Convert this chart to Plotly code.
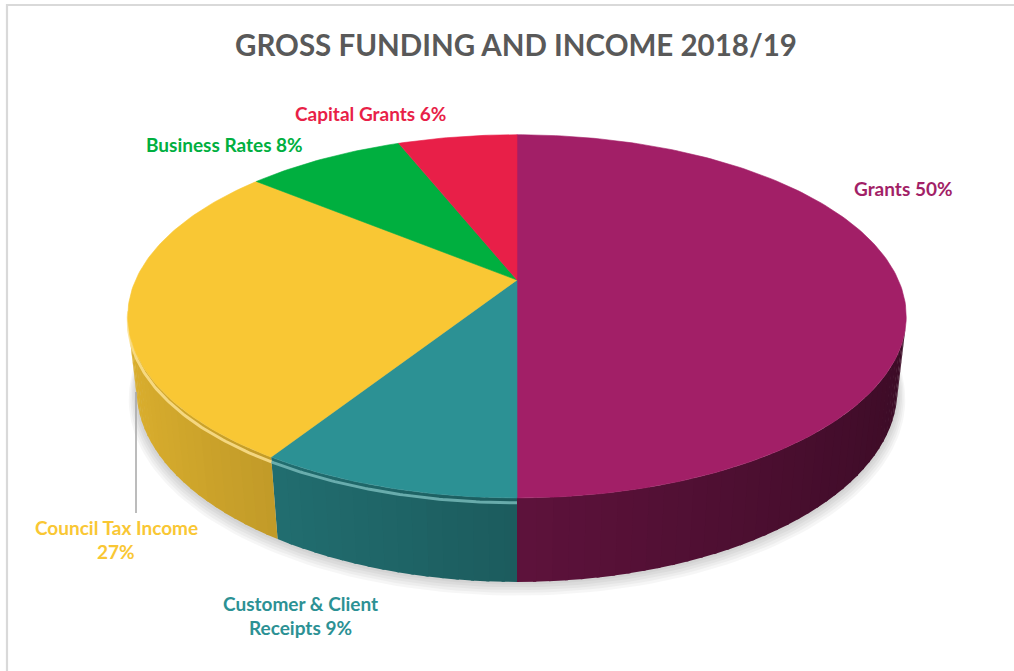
import numpy as np
import plotly.graph_objects as go

# ---- data -------------------------------------------------------------
categories = ["Grants", "Customer & Client Receipts", "Council Tax Income",
              "Business Rates", "Capital Grants"]
shares = [50, 9, 27, 8, 6]
label_lines = [["Grants 50%"],
               ["Customer & Client", "Receipts 9%"],
               ["Council Tax Income", "27%"],
               ["Business Rates 8%"],
               ["Capital Grants 6%"]]
title_text = "GROSS FUNDING AND INCOME 2018/19"

# ---- styling ----------------------------------------------------------
top_colors = ["#A21F67", "#2C9194", "#F9C734", "#00AF3F", "#E81F48"]
label_colors = ["#A21F67", "#2C9194", "#F9C734", "#00AF3F", "#E81F48"]
rim_light = [0.0, 0.35, 0.45, 0.3, 0.3]
side_gain = [0.96, 1.05, 1.08, 1.0, 1.0]
label_pos = [(903, 188), (300, 603), (116, 527), (224, 144), (370, 113)]
LINE_GAP = 24.5
FONT = "Lato"

W, H_PX = 1014, 671

# ---- 3D pie camera -----------------------------------------------------
CX, CY = 517.0, 280.0          # projected pie centre
FOCAL = 1696.0
DIST = 4.447
ELEV = np.radians(27.2)
THICK = 0.218                  # pie thickness (radius = 1)
SA, CA = np.sin(ELEV), np.cos(ELEV)


def project(X, Y, Z):
    depth = DIST + Y * CA - Z * SA
    up = Y * SA + Z * CA
    return CX + FOCAL * X / depth, CY - FOCAL * up / depth


def rgb(hexc):
    hexc = hexc.lstrip("#")
    return np.array([int(hexc[i:i + 2], 16) for i in (0, 2, 4)], float)


def to_css(c, a=None):
    c = np.clip(c, 0, 255).round().astype(int)
    if a is None:
        return f"rgb({c[0]},{c[1]},{c[2]})"
    return f"rgba({c[0]},{c[1]},{c[2]},{a})"


# slice angles: clockwise from 12 o'clock
total = float(sum(shares))
bounds = np.concatenate([[0.0], np.cumsum(shares) / total * 360.0])

# silhouette of the cylinder side seen by the camera
y_sil = -1.0 / (DIST * CA)
x_sil = np.sqrt(1 - y_sil ** 2)
th_right = np.degrees(np.arctan2(x_sil, y_sil))
th_left = 360.0 - th_right

fig = go.Figure()

# soft drop shadow under the pie
for j in range(5, 0, -1):
    t = np.radians(np.linspace(0, 360, 241))
    r = 1.0 + 0.004 * j
    xs, ys = project(r * np.sin(t), r * np.cos(t), -THICK)
    fig.add_trace(go.Scatter(x=xs, y=ys + 1.6 * j, mode="lines", fill="toself",
                             fillcolor="rgba(0,0,0,0.035)", line=dict(width=0),
                             hoverinfo="skip"))

# side walls (front half only), shaded left to right
STEP = 2.0
for i, col in enumerate(top_colors):
    a0, a1 = max(bounds[i], th_right), min(bounds[i + 1], th_left)
    if a1 <= a0:
        continue
    base = rgb(col)
    n = max(1, int(np.ceil((a1 - a0) / STEP)))
    edges = np.linspace(a0, a1, n + 1)
    for k, (ea, eb) in enumerate(zip(edges[:-1], edges[1:])):
        # overlap neighbouring strips a little to avoid hairline gaps
        ea2 = ea - (0.4 if k > 0 else 0.0)
        t = np.radians(np.linspace(ea2, eb, 4))
        X, Y = np.sin(t), np.cos(t)
        xt, yt = project(X, Y, 0.0)
        xb, yb = project(X, Y, -THICK)
        xm = np.sin(np.radians((ea + eb) / 2))
        f = (0.60 - 0.22 * xm) * side_gain[i]
        c = to_css(base * f)
        fig.add_trace(go.Scatter(
            x=np.concatenate([xt, xb[::-1]]), y=np.concatenate([yt, yb[::-1]]),
            mode="lines", fill="toself", fillcolor=c,
            line=dict(width=0), hoverinfo="skip"))

# bevel highlight along the front rim
for i, col in enumerate(top_colors):
    if rim_light[i] <= 0:
        continue
    a0, a1 = max(bounds[i], th_right - 6), min(bounds[i + 1], th_left + 6)
    if a1 <= a0:
        continue
    t = np.radians(np.linspace(a0, a1, 80))
    xs, ys = project(np.sin(t), np.cos(t), -0.01)
    light = rgb(col) + (255 - rgb(col)) * rim_light[i]
    fig.add_trace(go.Scatter(x=xs, y=ys + 1.0, mode="lines",
                             line=dict(width=3, color=to_css(light, 0.85)),
                             hoverinfo="skip"))

# top faces
for i, (cat, col) in enumerate(zip(categories, top_colors)):
    n = max(4, int(np.ceil((bounds[i + 1] - bounds[i]) / 1.0)))
    t = np.radians(np.linspace(bounds[i], bounds[i + 1], n + 1))
    xs, ys = project(np.sin(t), np.cos(t), 0.0)
    x0, y0 = project(0.0, 0.0, 0.0)
    fig.add_trace(go.Scatter(
        x=np.concatenate([[x0], xs, [x0]]), y=np.concatenate([[y0], ys, [y0]]),
        mode="lines", fill="toself", fillcolor=col,
        line=dict(width=0.6, color=col), name=cat,
        hovertemplate=f"{cat}: {shares[i]}%<extra></extra>"))

# labels
annotations = []
for lines, (lx, ly), lc in zip(label_lines, label_pos, label_colors):
    for k, txt in enumerate(lines):
        annotations.append(dict(
            x=lx, y=ly + k * LINE_GAP, xref="x", yref="y", text=f"<b>{txt}</b>",
            showarrow=False, xanchor="center", yanchor="middle",
            font=dict(family=FONT, size=19, color=lc)))

annotations.append(dict(
    x=516, y=44, xref="x", yref="y", text=f"<b>{title_text}</b>",
    showarrow=False, xanchor="center", yanchor="middle",
    font=dict(family=FONT, size=29.5, color="#595959")))

shapes = [
    # leader for the council tax label
    dict(type="line", x0=136, x1=136, y0=392, y1=513, xref="x", yref="y",
         line=dict(color="#A6A6A6", width=1.5)),
    # chart area border
    dict(type="rect", x0=7, y0=5, x1=W + 20, y1=H_PX + 20, xref="x", yref="y",
         line=dict(color="#D9D9D9", width=2.2)),
]

fig.update_layout(
    width=W, height=H_PX,
    margin=dict(l=0, r=0, t=0, b=0),
    paper_bgcolor="white", plot_bgcolor="white",
    showlegend=False,
    xaxis=dict(range=[0, W], visible=False, fixedrange=True),
    yaxis=dict(range=[H_PX, 0], visible=False, fixedrange=True),
    annotations=annotations, shapes=shapes,
)

fig.write_html("out.html")
